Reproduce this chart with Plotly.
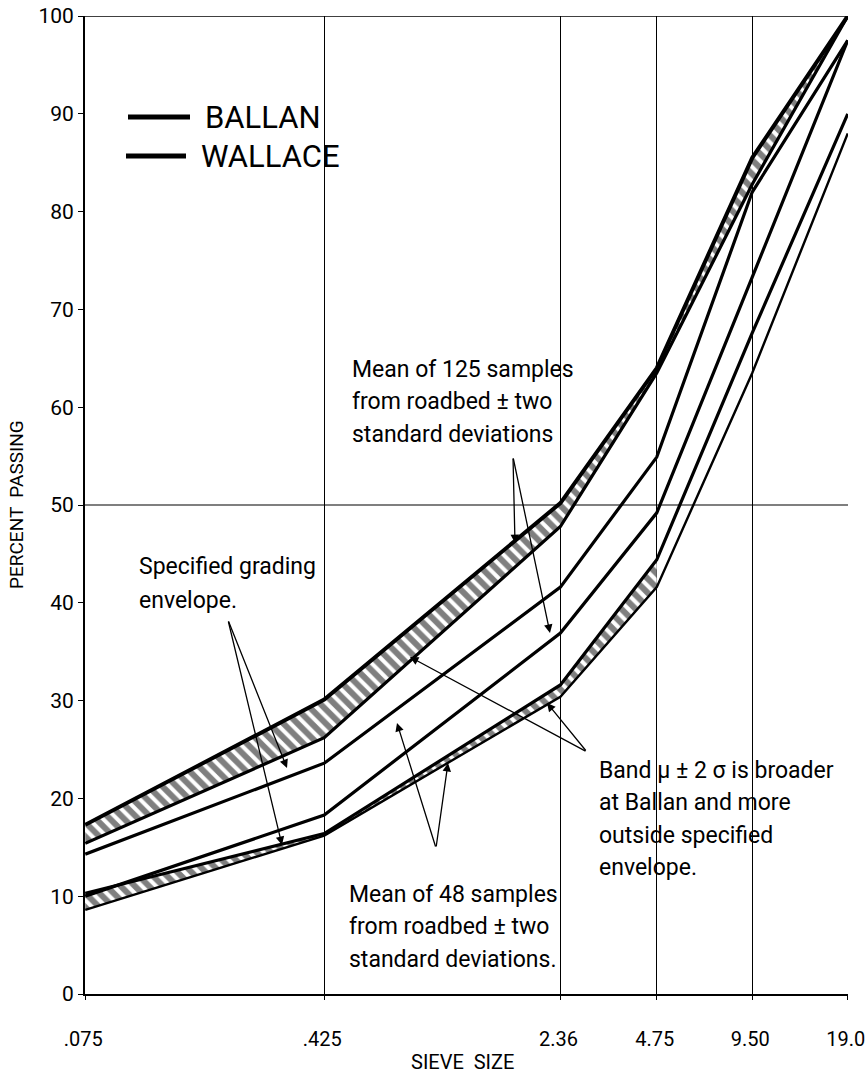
import math
import plotly.graph_objects as go

# ---------------- data ----------------
SIEVE = [0.075, 0.425, 2.36, 4.75, 9.50, 19.0]
TICK_TEXT = [".075", ".425", "2.36", "4.75", "9.50", "19.0"]
Y_TICKS = [0, 10, 20, 30, 40, 50, 60, 70, 80, 90, 100]

UPPER_OUTER = [17.3, 30.1, 50.2, 64.0, 85.5, 100.0]   # top line of upper hatched band
UPPER_INNER = [15.4, 26.2, 47.8, 63.5, 82.8, 100.0]   # lower edge of upper hatched band
UPPER_MID = [14.3, 23.6, 41.6, 54.9, 82.0, 97.5]
LOWER_MID = [10.0, 18.3, 36.9, 49.2, 73.3, 97.5]
LOWER_INNER = [10.3, 16.4, 31.6, 44.4, 67.6, 90.0]    # upper edge of lower hatched band
LOWER_OUTER = [8.6, 16.2, 30.4, 41.6, 63.5, 88.0]     # bottom line of lower hatched band
LOWER_HATCH_END = 4                                  # lower band is hatched up to 4.75 mm

FONT = "Roboto, Liberation Sans, sans-serif"

W, H = 868, 1080
PL, PR, PT, PB = 85, 848, 16, 994


def paper(px, py):
    return (px - PL) / (PR - PL), (PB - py) / (PB - PT)


fig = go.Figure()

line_style = dict(color="black", width=3.2)
hatch = dict(shape="\\", fgcolor="black", bgcolor="white", size=10, solidity=0.6)

# upper hatched band
fig.add_trace(go.Scatter(x=SIEVE, y=UPPER_INNER, mode="lines", line=line_style, showlegend=False))
fig.add_trace(go.Scatter(x=SIEVE, y=UPPER_OUTER, mode="lines", line=dict(color="black", width=4),
                         fill="tonexty", fillcolor="white", fillpattern=hatch, showlegend=False))
# lower hatched band (hatch only over the part where the two edges run close together)
n = LOWER_HATCH_END
fig.add_trace(go.Scatter(x=SIEVE[:n], y=LOWER_OUTER[:n], mode="lines", line=dict(width=0),
                         showlegend=False, hoverinfo="skip"))
fig.add_trace(go.Scatter(x=SIEVE[:n], y=LOWER_INNER[:n], mode="lines", line=dict(width=0),
                         fill="tonexty", fillcolor="white", fillpattern=hatch,
                         showlegend=False, hoverinfo="skip"))
fig.add_trace(go.Scatter(x=SIEVE, y=LOWER_OUTER, mode="lines", line=dict(color="black", width=2.4), showlegend=False))
fig.add_trace(go.Scatter(x=SIEVE, y=LOWER_INNER, mode="lines", line=line_style, showlegend=False))
fig.add_trace(go.Scatter(x=SIEVE, y=UPPER_MID, mode="lines", line=line_style, showlegend=False))
fig.add_trace(go.Scatter(x=SIEVE, y=LOWER_MID, mode="lines", line=line_style, showlegend=False))

shapes = []
# horizontal 50 line and top border
for yv in (50, 100):
    shapes.append(dict(type="line", xref="paper", yref="y", x0=0, x1=1, y0=yv, y1=yv,
                       line=dict(color="black", width=1.2 if yv == 50 else 1.6), layer="below"))

# legend
for (x0, x1, yy) in [(128, 190, 117), (126, 186, 156)]:
    a, b = paper(x0, yy)
    c, _ = paper(x1, yy)
    shapes.append(dict(type="line", xref="paper", yref="paper", x0=a, x1=c, y0=b, y1=b,
                       line=dict(color="black", width=5)))

annotations = []


def text(px, py, s, size=23, anchor="left", angle=0):
    x, y = paper(px, py)
    annotations.append(dict(x=x, y=y, xref="paper", yref="paper", text=s, showarrow=False,
                            xanchor=anchor, yanchor="middle", align="left", textangle=angle,
                            font=dict(family=FONT, size=size, color="black")))


def block(px, py0, lines, step=32.5, size=23):
    for i, s in enumerate(lines):
        text(px, py0 + i * step, s, size=size)


def arrow(tail, head):
    x, y = paper(*head)
    annotations.append(dict(x=x, y=y, xref="paper", yref="paper", text="", showarrow=True,
                            ax=tail[0] - head[0], ay=tail[1] - head[1],
                            arrowhead=2, arrowsize=1.3, arrowwidth=1.3, arrowcolor="black",
                            standoff=0, startstandoff=0))


text(203, 117, "BALLAN", size=31)
text(199, 156, "WALLACE", size=31)

block(137, 567, ["Specified grading", "envelope."], step=33)
arrow((228, 620), (287, 768))
arrow((228, 620), (282, 845))

block(350, 369, ["Mean of 125 samples", "from roadbed ± two", "standard deviations"])
arrow((513, 457), (515, 543))
arrow((513, 457), (550, 633))

block(597, 770, ["Band μ ± 2 σ is broader", "at Ballan and more", "outside specified", "envelope."])
arrow((587, 752), (410, 657))
arrow((587, 752), (547, 703))

block(347, 894, ["Mean of 48 samples", "from roadbed ± two", "standard deviations."])
arrow((436, 848), (397, 723))
arrow((436, 848), (448, 763))

# axis titles
text(462, 1062, "SIEVE  SIZE", size=20, anchor="center")
text(16, 505, "PERCENT  PASSING", size=19, anchor="center", angle=-90)

eps = 0.0008
fig.update_layout(
    width=W, height=H,
    margin=dict(l=PL, r=W - PR, t=PT, b=H - PB, autoexpand=False),
    plot_bgcolor="white", paper_bgcolor="white",
    shapes=shapes, annotations=annotations,
    font=dict(family=FONT, color="black"),
)
fig.update_xaxes(type="log", range=[math.log10(SIEVE[0]) - eps, math.log10(SIEVE[-1]) + eps],
                 tickvals=SIEVE, ticktext=TICK_TEXT, tickfont=dict(size=20, family=FONT),
                 showgrid=True, gridcolor="black", gridwidth=1.1, automargin=False,
                 ticklabeloverflow="allow", ticklabelshift=-2,
                 showline=True, linecolor="black", linewidth=2, mirror=False,
                 ticks="outside", ticklen=4, tickcolor="black", ticklabelstandoff=22, zeroline=False)
fig.update_yaxes(range=[0, 100], tickvals=Y_TICKS, tickfont=dict(size=21, family=FONT),
                 showgrid=False, showline=True, linecolor="black", linewidth=2, automargin=False,
                 ticklabeloverflow="allow",
                 ticks="outside", ticklen=5, tickcolor="black", ticklabelstandoff=0, zeroline=False)

fig.write_html("out.html", config={"displayModeBar": False},
               post_script="document.body.style.margin='0px';")
